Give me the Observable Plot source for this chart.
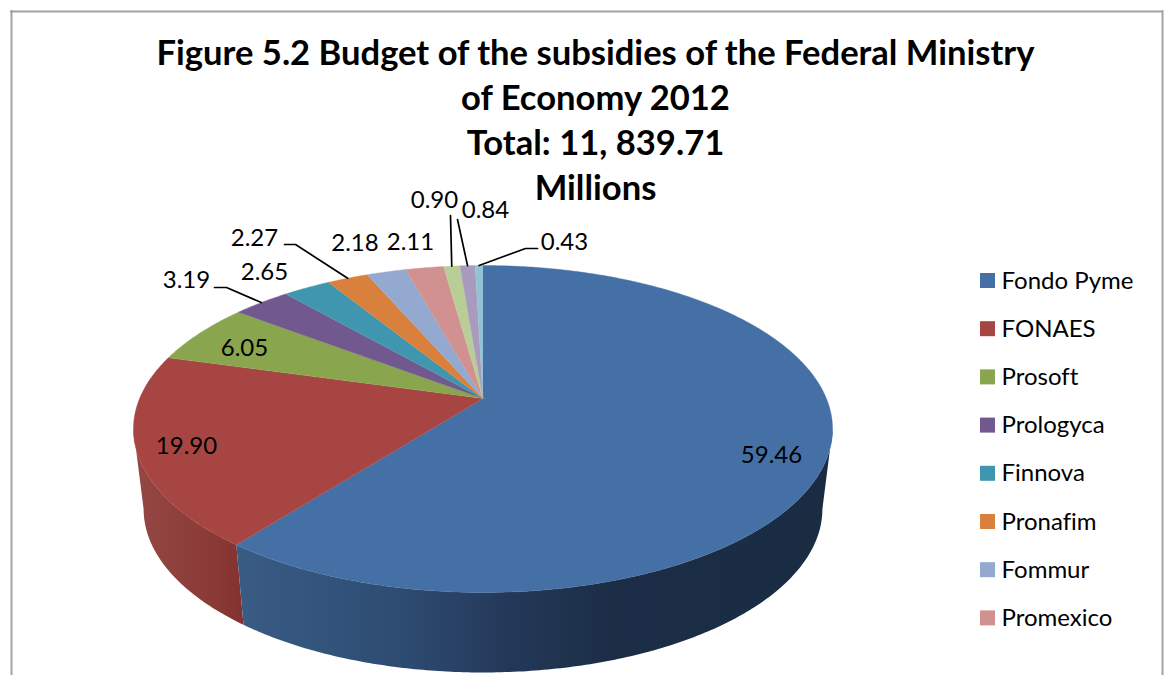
<!DOCTYPE html>
<html>
<head>
<meta charset="utf-8">
<style>html,body{margin:0;padding:0;background:#fff;overflow:hidden}svg{display:block}svg text{font-variant-ligatures:none}</style>
<script src="https://cdn.jsdelivr.net/npm/d3@7"></script>
<script src="https://cdn.jsdelivr.net/npm/@observablehq/plot@0.6"></script>
</head>
<body>
<div id="chart"></div>
<script>
// Subsidy budget shares, percent of the total
const shares = [59.46, 19.90, 6.05, 3.19, 2.65, 2.27, 2.18, 2.11, 0.90, 0.84, 0.43];
const sliceColors = ["#4570a6", "#a64542", "#89a54e", "#71588f", "#4096ae", "#d8803c", "#93a9cf", "#d09190", "#b9cd96", "#a99bbd", "#92c3d4"];
const programmes = ["Fondo Pyme", "FONAES", "Prosoft", "Prologyca", "Finnova", "Pronafim", "Fommur", "Promexico"];
const titleLines = ["Figure 5.2 Budget of the subsidies of the Federal Ministry", "of Economy 2012", "Total: 11, 839.71", "Millions"];

// Hand placement of the value labels, in the same order as shares
const labelX = [771, 186, 244, 186, 264, 254, 354.5, 410, 434, 485, 564];
const labelY = [455, 446, 348, 280, 272, 238, 243, 242, 200, 210, 242];

// Leader elbows: slice index, then the waypoints leading to the rim
const leaders = [
  {slice: 3, via: [[214, 287], [226, 287]]},
  {slice: 5, via: [[284, 244], [295, 244]]},
  {slice: 8, via: [[450, 215]]},
  {slice: 9, via: [[457, 219]]},
  {slice: 10, via: [[537, 248], [525, 248]]}
];

const wallBlueStops = [[0, "#395c85"], [0.27, "#2e4c72"], [0.45, "#24395a"], [0.62, "#1c2e47"], [1, "#1a2c42"]];
const wallRedStops = [[0, "#944743"], [0.6, "#8c3d39"], [1, "#833230"]];

// Tilted disc: a circle seen in perspective, its centre off the ellipse centre
const hub = {x: 482.5, y: 398};
const tilt = 0.1865, spreadX = 343.4, spreadY = 157.8;
const depth = 80, baseShrink = 0.971;
const tangent = Math.acos(-tilt);
const frontBias = 8.9 * Math.PI / 180;

// Point on the rim for a clockwise angle from twelve o'clock
function rim(theta, lower = false) {
  const t = theta + frontBias * Math.max(0, -Math.cos(theta) - tilt) ** 2;
  const u = Math.sin(t), v = -Math.cos(t), w = 1 - tilt * v;
  const dx = spreadX * u / w, dy = spreadY * v / w;
  return lower
    ? {x: hub.x + baseShrink * dx, y: hub.y + dy + depth}
    : {x: hub.x + dx, y: hub.y + dy};
}

const cum = d3.cumsum(shares);
const total = cum[cum.length - 1];
const angle = p => 2 * Math.PI * p / total;
const bounds = shares.map((s, i) => [angle(i ? cum[i - 1] : 0), angle(cum[i])]);

function arc(a0, a1, lower = false) {
  const n = Math.max(2, Math.ceil((a1 - a0) / 0.01));
  return d3.range(n + 1).map(k => rim(a0 + (a1 - a0) * k / n, lower));
}

const faces = shares.flatMap((s, i) => [
  {...hub, slice: i},
  ...arc(bounds[i][0], bounds[i][1]).map(p => ({...p, slice: i}))
]);

// Only the part of the rim facing the viewer gets a wall
const wall = (a0, a1) => [...arc(a0, a1), ...arc(a0, a1, true).reverse()];
const wallBlue = wall(tangent, bounds[0][1]);
const wallRed = wall(bounds[1][0], 2 * Math.PI - tangent);

const leaderPoints = leaders.flatMap(({slice, via}) => {
  const tip = rim((bounds[slice][0] + bounds[slice][1]) / 2);
  return [...via.map(([x, y]) => ({x, y})), tip].map(p => ({...p, slice}));
});

const labels = shares.map((s, i) => ({text: s.toFixed(2), x: labelX[i], y: labelY[i]}));
const titleRows = titleLines.map((text, i) => ({text, row: i}));
const legendRows = programmes.map((name, i) => ({name, slice: i, row: i}));

const font = "Lato, 'Open Sans', sans-serif";
const legendY = i => 280.5 + 48.2 * i;

// Linear gradients for the shaded rim, referenced by url() from the wall marks
function gradient(id, stops) {
  return () => {
    const defs = d3.create("svg:defs");
    const g = defs.append("linearGradient").attr("id", id);
    for (const [o, c] of stops) g.append("stop").attr("offset", o).attr("stop-color", c);
    return defs.node();
  };
}

const chart = Plot.plot({
  width: 1165, height: 675,
  marginTop: 0, marginRight: 0, marginBottom: 0, marginLeft: 0,
  x: {domain: [0, 1165], range: [0, 1165], axis: null},
  y: {domain: [0, 675], range: [0, 675], axis: null},
  color: {type: "ordinal", domain: d3.range(shares.length), range: sliceColors},
  style: {background: "#fff"},
  marks: [
    gradient("wall-blue", wallBlueStops),
    gradient("wall-red", wallRedStops),
    Plot.ruleX([11, 1162], {y1: 10, y2: 675, stroke: "#a3a3a3", strokeWidth: 2}),
    Plot.ruleY([11], {x1: 10, x2: 1163, stroke: "#a3a3a3", strokeWidth: 2}),
    Plot.line(wallRed, {x: "x", y: "y", fill: "url(#wall-red)", stroke: null}),
    Plot.line(wallBlue, {x: "x", y: "y", fill: "url(#wall-blue)", stroke: null}),
    Plot.line(faces, {x: "x", y: "y", z: "slice", fill: "slice", stroke: "slice", strokeWidth: 0.4}),
    Plot.line(leaderPoints, {x: "x", y: "y", z: "slice", stroke: "#000", strokeWidth: 1.7}),
    Plot.text(labels, {x: "x", y: "y", text: "text", fontFamily: font, fontSize: 24, fill: "#000"}),
    Plot.text(titleRows, {x: () => 595, y: d => 53 + 45.3 * d.row, text: "text", fontFamily: font, fontSize: 34.6, fontWeight: 700, fill: "#000"}),
    Plot.rect(legendRows, {x1: () => 980, x2: () => 995, y1: d => legendY(d.row) - 7.5, y2: d => legendY(d.row) + 7.5, fill: "slice"}),
    Plot.text(legendRows, {x: () => 1001, y: d => legendY(d.row), text: "name", textAnchor: "start", fontFamily: font, fontSize: 24, fill: "#000"})
  ]
});
document.getElementById("chart").append(chart);
</script>
</body>
</html>
